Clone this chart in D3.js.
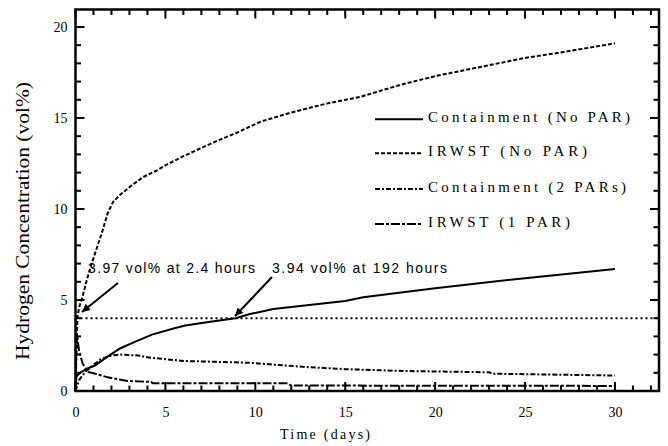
<!DOCTYPE html>
<html><head><meta charset="utf-8">
<script src="https://cdn.jsdelivr.net/npm/d3@7/dist/d3.min.js"></script>
<style>body{margin:0;background:#fff}</style>
</head><body><svg id="c" width="668" height="446"></svg>
<script>
// ---- data ----
const xTicks = [0, 5, 10, 15, 20, 25, 30];
const yTicks = [0, 5, 10, 15, 20];
const seriesNames = ["Containment (No PAR)", "IRWST (No PAR)", "Containment (2 PARs)", "IRWST (1 PAR)"];

const contNoParDays = [0, 0.05, 0.25, 0.7, 1.08, 1.8, 2.5, 3.3, 4.25, 5.5, 6.1, 7.5, 8.9, 9.7, 11, 15, 16, 20, 25, 30];
const contNoParVals = [0, 0.8, 1.0, 1.25, 1.4, 1.9, 2.35, 2.7, 3.1, 3.45, 3.6, 3.8, 4.0, 4.23, 4.5, 4.95, 5.15, 5.65, 6.2, 6.7];

const irwstNoParDays = [0, 0.05, 0.1, 0.2, 0.37, 0.63, 0.9, 1.2, 1.5, 1.8, 2.1, 2.5, 3, 3.75, 4.5, 5, 6, 7.1, 8, 9, 10.3, 12, 14, 15.8, 18, 20, 22, 25, 27, 30];
const irwstNoParVals = [0, 2.0, 3.97, 4.6, 5.1, 6.1, 7.0, 7.9, 8.8, 9.8, 10.4, 10.8, 11.2, 11.75, 12.1, 12.4, 12.9, 13.4, 13.8, 14.2, 14.8, 15.3, 15.8, 16.15, 16.8, 17.3, 17.7, 18.3, 18.6, 19.1];

const cont2ParDays = [0, 0.2, 0.5, 0.9, 1.4, 2, 2.5, 3.5, 4, 5, 6, 8, 9.7, 11, 12.8, 15, 18.2, 23, 23.2, 30];
const cont2ParVals = [0, 0.6, 1.0, 1.35, 1.75, 1.95, 2.0, 1.95, 1.85, 1.75, 1.65, 1.6, 1.55, 1.45, 1.32, 1.2, 1.1, 1.03, 0.95, 0.85];

const irwst1ParDays = [0, 0.03, 0.08, 0.2, 0.4, 0.7, 1.1, 1.8, 2.9, 4.2, 4.3, 11.8, 12, 30];
const irwst1ParVals = [0, 2.0, 3.1, 2.2, 1.5, 1.05, 0.95, 0.75, 0.55, 0.5, 0.42, 0.42, 0.3, 0.28];

const thresholdValue = 4;
const annotTexts = ["3.97 vol% at 2.4 hours", "3.94 vol% at 192 hours"];

// ---- chart ----
const svg = d3.select("#c");
const X0 = 75.5, X1 = 659, Y0 = 391, Y1 = 9.5;
const x = d3.scaleLinear().domain([0, 32.45]).range([X0, X1]);
const y = d3.scaleLinear().domain([0, 20.96]).range([Y0, Y1]);
const serif = "'Liberation Serif', 'Times New Roman', serif";
const sans = "'Liberation Sans', Arial, sans-serif";

const zip = (a, b) => a.map((d, i) => [d, b[i]]);
const series = [
  {name: seriesNames[0], data: zip(contNoParDays, contNoParVals), dash: null, w: 2},
  {name: seriesNames[1], data: zip(irwstNoParDays, irwstNoParVals), dash: "4,2", w: 2},
  {name: seriesNames[2], data: zip(cont2ParDays, cont2ParVals), dash: "5,2,2,2", w: 2},
  {name: seriesNames[3], data: zip(irwst1ParDays, irwst1ParVals), dash: "9,2,3,2", w: 2}
];

// tick labels via axes
svg.append("g").attr("transform", `translate(0,${Y0})`)
  .call(d3.axisBottom(x).tickValues(xTicks).tickSize(0).tickPadding(16).tickFormat(d3.format("d")))
  .call(g => { g.select(".domain").remove(); g.selectAll("line").remove(); })
  .call(g => g.attr("font-family", serif).attr("font-size", 14))
  .call(g => g.selectAll("text").style("font-family", serif).style("font-size", "14px").attr("fill", "#000"));
svg.append("g").attr("transform", `translate(${X0},0)`)
  .call(d3.axisLeft(y).tickValues(yTicks).tickSize(0).tickPadding(8).tickFormat(d3.format("d")))
  .call(g => { g.select(".domain").remove(); g.selectAll("line").remove(); })
  .call(g => g.attr("font-family", serif).attr("font-size", 14))
  .call(g => g.selectAll("text").style("font-family", serif).style("font-size", "14px").attr("fill", "#000"));

// frame
svg.append("rect").attr("x", X0).attr("y", Y1).attr("width", X1 - X0).attr("height", Y0 - Y1)
  .style("fill", "none").style("stroke", "#000").style("stroke-width", "2.5px");

// inward ticks on all four sides
const xMinor = d3.range(0, 33, 1);
const yMinor = d3.range(0, 21, 1);
const tickG = svg.append("g");
xMinor.forEach(v => {
  const L = v % 5 === 0 ? 9 : 5.5;
  const px = x(v);
  tickG.append("rect").attr("x", px - 1).attr("y", Y0 - L).attr("width", 2).attr("height", L).attr("fill", "#000");
  tickG.append("rect").attr("x", px - 1).attr("y", Y1).attr("width", 2).attr("height", L).attr("fill", "#000");
});
yMinor.forEach(v => {
  const L = v % 5 === 0 ? 9 : 5.5;
  const py = y(v);
  tickG.append("rect").attr("x", X0).attr("y", py - 1).attr("width", L).attr("height", 2).attr("fill", "#000");
  tickG.append("rect").attr("x", X1 - L).attr("y", py - 1).attr("width", L).attr("height", 2).attr("fill", "#000");
});

// threshold line
svg.append("line").attr("x1", x(0)).attr("x2", X1).attr("y1", y(thresholdValue)).attr("y2", y(thresholdValue))
  .style("stroke", "#000").style("stroke-width", "2px").style("stroke-dasharray", "2,3");

// series
const line = d3.line().x(d => x(d[0])).y(d => y(d[1]));
series.forEach(s => {
  svg.append("path").attr("d", line(s.data)).style("fill", "none").style("stroke", "#000")
    .style("stroke-width", s.w + "px").style("stroke-dasharray", s.dash || "none");
});

// legend
const legY = [119.3, 153.3, 189, 224];
const legLen = [202, 159, 198, 142];
series.forEach((s, i) => {
  svg.append("line").attr("x1", 375).attr("x2", 423).attr("y1", legY[i]).attr("y2", legY[i])
    .style("stroke", "#000").style("stroke-width", s.w + "px").style("stroke-dasharray", s.dash || "none");
  svg.append("text").attr("x", 428).attr("y", legY[i] + 3).text(s.name)
    .style("font-family", serif).style("font-size", "15px").attr("fill", "#000")
    .attr("textLength", legLen[i]).attr("lengthAdjust", "spacing");
});

// axis titles
svg.append("text").attr("x", 280).attr("y", 439).text("Time (days)")
  .style("font-family", serif).style("font-size", "14px").attr("textLength", 90).attr("lengthAdjust", "spacing");
svg.append("text").attr("transform", "translate(29,360) rotate(-90)").text("Hydrogen Concentration (vol%)")
  .style("font-family", serif).style("font-size", "18px").attr("textLength", 278).attr("lengthAdjust", "spacingAndGlyphs");

// annotations
const defs = svg.append("defs");
defs.append("marker").attr("id", "ah").attr("viewBox", "0 0 10 10").attr("refX", 10).attr("refY", 5)
  .attr("markerWidth", 12).attr("markerHeight", 8).attr("markerUnits", "userSpaceOnUse").attr("orient", "auto")
  .append("path").attr("d", "M0,0 L10,5 L0,10 Z").attr("fill", "#000");
const annots = [
  {text: annotTexts[0], tx: 0.7, ty: 6.48, len: 167, from: [2.36, 5.93], to: [0.36, 4.34]},
  {text: annotTexts[1], tx: 10.93, ty: 6.48, len: 175, from: [10.93, 6.26], to: [8.87, 4.12]}
];
annots.forEach(a => {
  svg.append("text").attr("x", x(a.tx)).attr("y", y(a.ty)).text(a.text)
    .style("font-family", sans).style("font-size", "14px").attr("fill", "#000")
    .attr("textLength", a.len).attr("lengthAdjust", "spacing");
  svg.append("line").attr("x1", x(a.from[0])).attr("y1", y(a.from[1])).attr("x2", x(a.to[0])).attr("y2", y(a.to[1]))
    .style("stroke", "#000").style("stroke-width", "2px").attr("marker-end", "url(#ah)");
});
</script></body></html>
